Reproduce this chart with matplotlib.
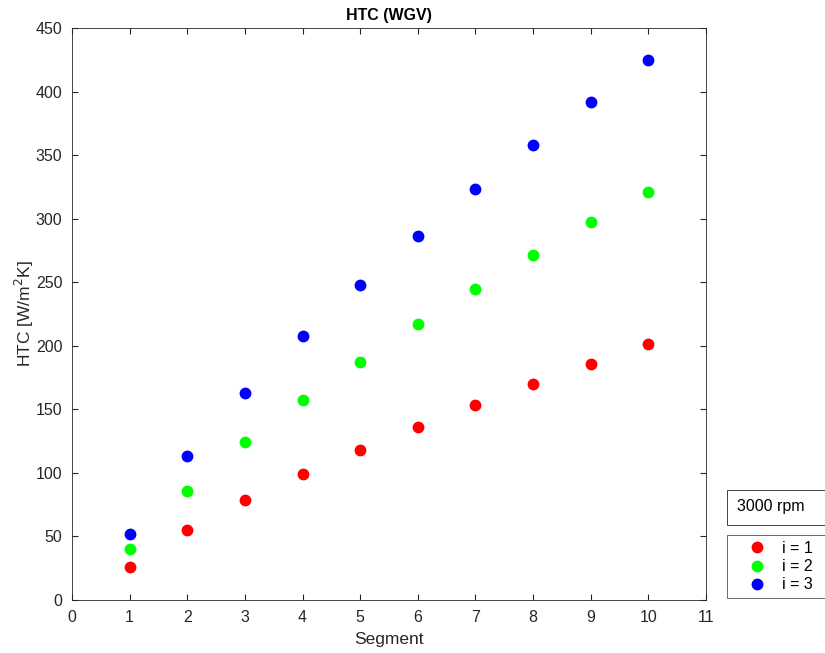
import matplotlib.pyplot as plt
from matplotlib.patches import Rectangle

plt.rcParams['font.family'] = ['Liberation Sans', 'DejaVu Sans']

segments = [1, 2, 3, 4, 5, 6, 7, 8, 9, 10]
htc_i1 = [26, 55, 79, 99, 118, 136, 153, 170, 186, 201]
htc_i2 = [40, 86, 124, 157, 187, 217, 245, 271, 297, 321]
htc_i3 = [52, 113, 163, 208, 248, 286, 323, 358, 392, 425]
series_labels = ['i = 1', 'i = 2', 'i = 3']
series_colors = ['#ff0000', '#00ff00', '#0000ff']

fig = plt.figure(figsize=(8.25, 6.53), dpi=100)
ax = fig.add_axes([0.0873, 0.0812, 0.7685, 0.876])

for vals, lab, col in zip([htc_i1, htc_i2, htc_i3], series_labels, series_colors):
    ax.plot(segments, vals, 'o', color=col, markersize=7.5, label=lab)

ax.set_xlim(0, 11)
ax.set_ylim(0, 450)
ax.set_xticks(range(0, 12))
ax.set_yticks(range(0, 451, 50))
ax.tick_params(direction='in', top=True, right=True, labelsize=11.5, colors='#262626',
               length=4, pad=7)
for s in ax.spines.values():
    s.set_color('#262626')
    s.set_linewidth(0.6)

ax.set_title('HTC (WGV)', fontsize=11.5, fontweight='bold')
ax.set_xlabel('Segment', fontsize=12.5, color='#262626', labelpad=5)
ax.set_ylabel('HTC [W/m$^2$K]', fontsize=12.5, color='#262626', labelpad=0)

leg = fig.legend(loc='lower left', bbox_to_anchor=(727 / 825, 55 / 653, 98 / 825, 66 / 653),
                 mode='expand', fontsize=11.5, frameon=True, fancybox=False,
                 handlelength=3.0, handletextpad=0.1, borderpad=0.35,
                 labelspacing=0.2, borderaxespad=0)
leg.get_frame().set_edgecolor('#262626')
leg.get_frame().set_linewidth(0.6)

# "3000 rpm" annotation box
box = Rectangle((727 / 825, (653 - 525) / 653), 98 / 825, 35 / 653,
                transform=fig.transFigure, fc='white', ec='#262626', lw=0.6)
fig.add_artist(box)
fig.text(737 / 825, (653 - 506) / 653, '3000 rpm', fontsize=11.5, va='center', ha='left')

fig.savefig('out.png', dpi=100)
